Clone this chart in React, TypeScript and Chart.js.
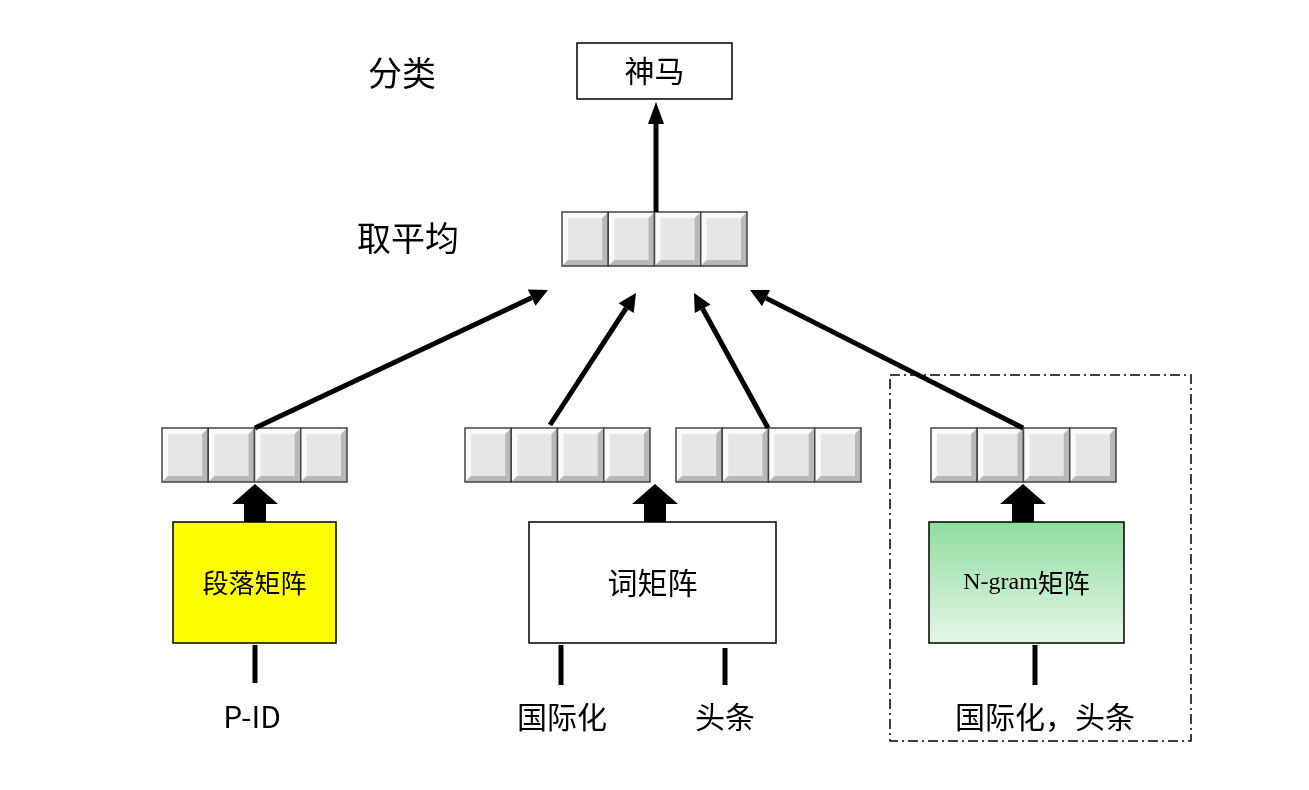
import { useEffect, useRef } from 'react';
import Chart from 'chart.js/auto';

// diagram nodes, in page units (x right, y down)
const title = { text: '分类', x: 402, y: 73 };
const topBox = { text: '神马', x0: 577, x1: 732, y0: 43, y1: 99 };
const avgLabel = { text: '取平均', x: 408, y: 238 };
const avgVector = { x0: 562, y0: 212 };
const vectors = [
  { x0: 162, y0: 428 },
  { x0: 465, y0: 428 },
  { x0: 676, y0: 428 },
  { x0: 931, y0: 428 },
];
const cellW = 46.25;
const cellH = 54;
const thinArrows = [
  [255, 428, 548, 290],
  [550, 425, 636, 293],
  [768, 428, 694, 293],
  [1023, 428, 750, 290],
];
const blockArrows = [255, 655, 1023];
const matrices = [
  { text: '段落矩阵', x0: 173, x1: 336, fill: 'yellow', size: 26 },
  { text: '词矩阵', x0: 529, x1: 776, fill: 'white', size: 30 },
  { text: 'N-gram矩阵', x0: 929, x1: 1124, fill: 'green', size: 26 },
];
const stems = [
  [255, 645, 683],
  [561, 645, 685],
  [725, 648, 685],
  [1035, 645, 685],
];
const inputs = [
  { text: 'P-ID', x: 252 },
  { text: '国际化', x: 562 },
  { text: '头条', x: 725 },
  { text: '国际化，头条', x: 1045 },
];
const dashBox = { x0: 890, x1: 1191, y0: 375, y1: 741 };

const FONT = '"Noto Sans CJK SC", "Noto Sans", sans-serif';

const diagram = {
  id: 'diagram',
  afterDraw(chart: any) {
    const c = chart.ctx as CanvasRenderingContext2D;
    const X = (v: number) => chart.scales.x.getPixelForValue(v);
    const Y = (v: number) => chart.scales.y.getPixelForValue(v);
    c.save();
    const text = (t: string, x: number, y: number, size: number, font = FONT) => {
      c.fillStyle = '#000';
      c.font = `${size}px ${font}`;
      c.textAlign = 'center';
      c.textBaseline = 'middle';
      c.fillText(t, X(x), Y(y));
    };
    const vec = (x0: number, y0: number) => {
      for (let i = 0; i < 4; i++) {
        const a = X(x0 + i * cellW), b = Y(y0);
        const w = X(x0 + (i + 1) * cellW) - a, h = Y(y0 + cellH) - b;
        c.fillStyle = '#e6e6e6';
        c.fillRect(a, b, w, h);
        c.fillStyle = '#fafafa';
        c.beginPath();
        c.moveTo(a, b); c.lineTo(a + w, b); c.lineTo(a + w - 6, b + 6);
        c.lineTo(a + 6, b + 6); c.lineTo(a + 6, b + h - 6); c.lineTo(a, b + h);
        c.closePath(); c.fill();
        c.fillStyle = '#b8b8b8';
        c.beginPath();
        c.moveTo(a + w, b); c.lineTo(a + w, b + h); c.lineTo(a, b + h);
        c.lineTo(a + 6, b + h - 6); c.lineTo(a + w - 6, b + h - 6); c.lineTo(a + w - 6, b + 6);
        c.closePath(); c.fill();
        c.strokeStyle = '#444';
        c.lineWidth = 1.5;
        c.strokeRect(a, b, w, h);
      }
    };
    const arrow = (x0: number, y0: number, x1: number, y1: number, lw: number, hl: number, hw: number) => {
      const ang = Math.atan2(Y(y1) - Y(y0), X(x1) - X(x0));
      const bx = X(x1) - hl * Math.cos(ang), by = Y(y1) - hl * Math.sin(ang);
      c.strokeStyle = '#000';
      c.lineWidth = lw;
      c.beginPath(); c.moveTo(X(x0), Y(y0)); c.lineTo(bx, by); c.stroke();
      c.fillStyle = '#000';
      c.beginPath();
      c.moveTo(X(x1), Y(y1));
      c.lineTo(bx + hw * Math.sin(ang), by - hw * Math.cos(ang));
      c.lineTo(bx - hw * Math.sin(ang), by + hw * Math.cos(ang));
      c.closePath(); c.fill();
    };

    text(title.text, title.x, title.y, 34);
    c.strokeStyle = '#000'; c.lineWidth = 1.5;
    c.strokeRect(X(topBox.x0), Y(topBox.y0), X(topBox.x1) - X(topBox.x0), Y(topBox.y1) - Y(topBox.y0));
    text(topBox.text, (topBox.x0 + topBox.x1) / 2, (topBox.y0 + topBox.y1) / 2, 30);
    text(avgLabel.text, avgLabel.x, avgLabel.y, 34);
    vec(avgVector.x0, avgVector.y0);
    arrow(656, 212, 656, 102, 5, 22, 8);
    vectors.forEach((v) => vec(v.x0, v.y0));
    thinArrows.forEach(([a, b, d, e]) => arrow(a, b, d, e, 5, 18, 9));

    blockArrows.forEach((x) => {
      c.fillStyle = '#000';
      c.beginPath();
      c.moveTo(X(x), Y(484));
      c.lineTo(X(x + 23), Y(504)); c.lineTo(X(x + 11), Y(504)); c.lineTo(X(x + 11), Y(522));
      c.lineTo(X(x - 11), Y(522)); c.lineTo(X(x - 11), Y(504)); c.lineTo(X(x - 23), Y(504));
      c.closePath(); c.fill();
    });

    matrices.forEach((m) => {
      const a = X(m.x0), b = Y(522), w = X(m.x1) - a, h = Y(643) - b;
      if (m.fill === 'green') {
        const g = c.createLinearGradient(0, b, 0, b + h);
        g.addColorStop(0, '#8fdc9f'); g.addColorStop(1, '#e6f6e8');
        c.fillStyle = g;
      } else c.fillStyle = m.fill === 'yellow' ? '#ffff00' : '#fff';
      c.fillRect(a, b, w, h);
      c.strokeStyle = '#000'; c.lineWidth = 1.5;
      c.strokeRect(a, b, w, h);
      if (m.fill === 'green') {
        c.fillStyle = '#000';
        c.textBaseline = 'middle';
        c.font = `24px "Liberation Serif", serif`;
        const p1 = 'N-gram', p2 = '矩阵';
        c.textAlign = 'left';
        const w1 = c.measureText(p1).width;
        c.font = `26px ${FONT}`;
        const w2 = c.measureText(p2).width;
        const sx = X((m.x0 + m.x1) / 2) - (w1 + w2) / 2;
        c.font = `24px "Liberation Serif", serif`;
        c.fillText(p1, sx, Y(583));
        c.font = `26px ${FONT}`;
        c.fillText(p2, sx + w1, Y(583));
      } else text(m.text, (m.x0 + m.x1) / 2, 583, m.size);
    });

    c.strokeStyle = '#000'; c.lineWidth = 5;
    stems.forEach(([x, a, b]) => {
      c.beginPath(); c.moveTo(X(x), Y(a)); c.lineTo(X(x), Y(b)); c.stroke();
    });
    inputs.forEach((t) => text(t.text, t.x, 717, 30));

    c.lineWidth = 1.5;
    c.setLineDash([10, 4, 2, 4]);
    c.strokeRect(X(dashBox.x0), Y(dashBox.y0), X(dashBox.x1) - X(dashBox.x0), Y(dashBox.y1) - Y(dashBox.y0));
    c.restore();
  },
};

const App = () => {
  const chartRef = useRef<HTMLCanvasElement>(null);
  const chartInstance = useRef<Chart | null>(null);

  useEffect(() => {
    document.body.style.margin = '0';
    if (!chartRef.current) return;
    if (chartInstance.current) chartInstance.current.destroy();
    chartInstance.current = new Chart(chartRef.current, {
      type: 'scatter',
      data: { datasets: [{ data: [] }] },
      options: {
        animation: false,
        responsive: false,
        layout: { padding: 0 },
        plugins: { legend: { display: false }, tooltip: { enabled: false } },
        scales: {
          x: { type: 'linear', min: 0, max: 1309, display: false },
          y: { type: 'linear', min: 0, max: 790, reverse: true, display: false },
        },
      },
      plugins: [diagram],
    });
    return () => {
      chartInstance.current?.destroy();
      chartInstance.current = null;
    };
  }, []);

  return (
    <div style={{ width: 1309, height: 790, background: '#fff' }}>
      <canvas ref={chartRef} width={1309} height={790} />
    </div>
  );
};

export default App;
